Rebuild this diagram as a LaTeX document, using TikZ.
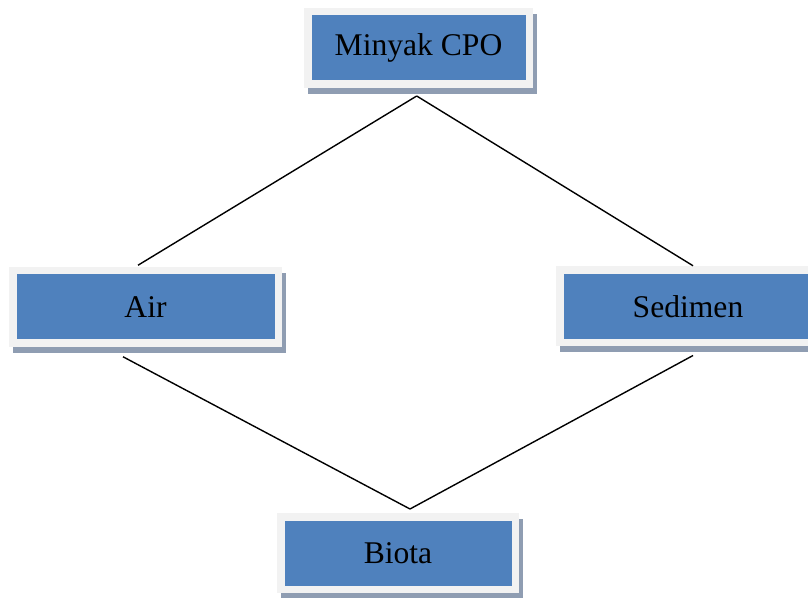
\documentclass[tikz,border=0pt]{standalone}
\usepackage{fontspec}
\setmainfont{Liberation Serif}
\usepackage{tikz}
\usetikzlibrary{positioning, calc}
\definecolor{boxblue}{RGB}{79, 129, 189}
\definecolor{framegray}{RGB}{242, 242, 242}
\definecolor{shadowgray}{RGB}{143, 157, 178}

\begin{document}
\begin{tikzpicture}[
    x=0.5pt, y=-0.5pt,
    box/.style={rectangle, fill=boxblue, draw=framegray, line width=3.75pt, inner sep=0pt,
        minimum height=36.25pt, align=center, font=\fontsize{15.8}{19}\selectfont,
        preaction={draw=shadowgray, fill=shadowgray, transform canvas={shift={(2pt,-3pt)}}}},
    link/.style={line width=0.7pt}
]
\useasboundingbox (0,0) rectangle (808,598);

\node[box, minimum width=110.75pt] (minyak) at (418.5,48) {Minyak CPO};
\node[box, minimum width=132.75pt] (air) at (145.5,307) {Air};
\node[box, minimum width=128.25pt] (sedimen) at (688,306.5) {Sedimen};
\node[box, minimum width=117.25pt] (biota) at (398,553) {Biota};

\draw[link] ($(minyak.south)+(-1.8,8)$) -- ($(air.north)+(-7.5,-1.75)$);
\draw[link] ($(minyak.south)+(-1.8,8)$) -- ($(sedimen.north)+(5,-0.75)$);
\draw[link] ($(air.south)+(-22.5,9.75)$) -- ($(biota.north)+(12,-4)$);
\draw[link] ($(sedimen.south)+(5,9)$) -- ($(biota.north)+(12,-4)$);

\end{tikzpicture}
\end{document}
